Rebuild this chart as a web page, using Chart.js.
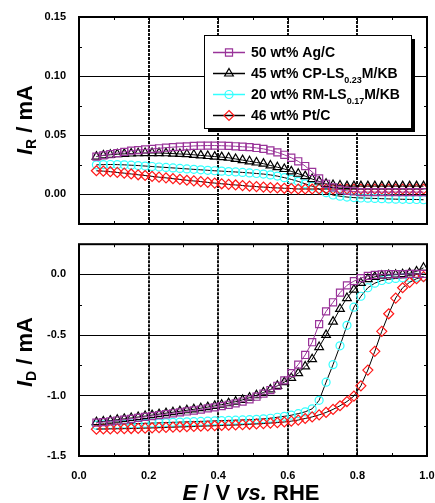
<!DOCTYPE html>
<html>
<head>
<meta charset="utf-8">
<script src="https://cdn.jsdelivr.net/npm/chart.js@4/dist/chart.umd.min.js"></script>
<style>
  body { margin: 0; background: #fff; }
  #wrap { position: relative; width: 435px; height: 503px; }
  canvas { position: absolute; left: 0; }
</style>
</head>
<body>
<div id="wrap">
  <canvas id="topChart" width="435" height="238" style="top:0px"></canvas>
  <canvas id="botChart" width="435" height="265" style="top:238px"></canvas>
</div>
<script>
// potential E / V vs. RHE
const xE = [0.05,0.07,0.09,0.11,0.13,0.15,0.17,0.19,0.21,0.23,0.25,0.27,0.29,0.31,0.33,0.35,
            0.37,0.39,0.41,0.43,0.45,0.47,0.49,0.51,0.53,0.55,0.57,0.59,0.61,0.63,0.65,0.67,
            0.69,0.71,0.73,0.75,0.77,0.79,0.81,0.83,0.85,0.87,0.89,0.91,0.93,0.95,0.97,0.99];

// ring current I_R / mA
const irAg = [0.032,0.033,0.034,0.035,0.036,0.037,0.0375,0.038,0.0385,0.039,0.0395,0.040,0.0403,0.0406,0.041,0.0412,
              0.0413,0.0413,0.0412,0.041,0.0407,0.0403,0.040,0.0393,0.0385,0.0372,0.0355,0.0335,0.031,0.028,0.024,0.019,
              0.0135,0.009,0.006,0.004,0.003,0.0025,0.002,0.002,0.002,0.002,0.002,0.002,0.002,0.002,0.002,0.002];
const irCP = [0.032,0.033,0.0335,0.034,0.0343,0.0346,0.0348,0.035,0.035,0.035,0.0348,0.0345,0.0342,0.034,0.0335,0.033,
              0.0325,0.032,0.0315,0.031,0.030,0.029,0.028,0.027,0.026,0.0245,0.023,0.0215,0.0195,0.0175,0.0155,0.013,
              0.011,0.009,0.008,0.0075,0.007,0.007,0.007,0.007,0.007,0.007,0.007,0.007,0.007,0.007,0.007,0.007];
const irRM = [0.025,0.0252,0.0253,0.0252,0.025,0.0247,0.0244,0.024,0.0236,0.0232,0.0228,0.0224,0.022,0.0216,0.0212,0.0208,
              0.0204,0.020,0.0197,0.0193,0.019,0.0186,0.0182,0.0177,0.0172,0.0165,0.0155,0.0142,0.0127,0.011,0.009,0.007,
              0.0045,0.0015,-0.0005,-0.0015,-0.0022,-0.0027,-0.003,-0.0032,-0.0034,-0.0036,-0.0038,-0.004,-0.0041,-0.0042,-0.0043,-0.0045];
const irPt = [0.020,0.0197,0.0192,0.0186,0.018,0.0173,0.0166,0.016,0.0153,0.0146,0.014,0.0133,0.0127,0.012,0.0114,0.0108,
              0.0102,0.0096,0.009,0.0085,0.008,0.0075,0.007,0.0066,0.0062,0.0058,0.0055,0.0052,0.005,0.0046,0.0046,0.0046,
              0.0046,0.0046,0.0046,0.0046,0.0046,0.0046,0.0046,0.0046,0.0046,0.0046,0.0046,0.0046,0.0046,0.0046,0.0046,0.0046];

// disk current I_D / mA
const idAg = [-1.225,-1.22,-1.213,-1.207,-1.20,-1.193,-1.185,-1.177,-1.17,-1.162,-1.155,-1.147,-1.14,-1.132,-1.124,-1.116,
              -1.107,-1.098,-1.088,-1.077,-1.065,-1.05,-1.032,-1.01,-0.985,-0.955,-0.92,-0.875,-0.815,-0.745,-0.665,-0.56,
              -0.41,-0.305,-0.23,-0.15,-0.09,-0.055,-0.03,-0.012,-0.004,0.0,0.002,0.003,0.003,0.004,0.004,0.005];
const idCP = [-1.22,-1.215,-1.208,-1.20,-1.193,-1.186,-1.178,-1.17,-1.162,-1.154,-1.146,-1.138,-1.13,-1.122,-1.114,-1.105,
              -1.096,-1.086,-1.076,-1.064,-1.051,-1.036,-1.018,-0.998,-0.975,-0.95,-0.92,-0.89,-0.855,-0.815,-0.76,-0.70,
              -0.60,-0.50,-0.39,-0.285,-0.195,-0.125,-0.07,-0.038,-0.02,-0.01,-0.005,-0.002,0.002,0.01,0.025,0.055];
const idRM = [-1.245,-1.243,-1.24,-1.238,-1.236,-1.234,-1.232,-1.23,-1.228,-1.226,-1.224,-1.222,-1.22,-1.218,-1.216,-1.214,
              -1.212,-1.21,-1.208,-1.206,-1.204,-1.202,-1.2,-1.197,-1.193,-1.188,-1.18,-1.172,-1.163,-1.15,-1.135,-1.11,
              -1.04,-0.89,-0.745,-0.59,-0.42,-0.27,-0.18,-0.11,-0.072,-0.05,-0.04,-0.033,-0.028,-0.025,-0.024,-0.022];
const idPt = [-1.278,-1.277,-1.276,-1.275,-1.274,-1.273,-1.272,-1.27,-1.268,-1.266,-1.264,-1.262,-1.26,-1.258,-1.256,-1.254,
              -1.252,-1.25,-1.248,-1.246,-1.244,-1.241,-1.238,-1.235,-1.232,-1.228,-1.224,-1.219,-1.212,-1.203,-1.19,-1.177,
              -1.16,-1.14,-1.115,-1.085,-1.05,-1.005,-0.92,-0.79,-0.635,-0.47,-0.325,-0.195,-0.11,-0.065,-0.035,-0.018];

// ticks
const xTicks = [0, 0.2, 0.4, 0.6, 0.8, 1.0];
const xMinor = [0.1, 0.3, 0.5, 0.7, 0.9];
const topYTicks = [0, 0.05, 0.10, 0.15];
const topYMinor = [0.025, 0.075, 0.125];
const botYTicks = [-1.5, -1.0, -0.5, 0.0];
const botYMinor = [-1.25, -0.75, -0.25];

const FONT = "'Liberation Sans', Arial, sans-serif";
Chart.defaults.font.family = FONT;
Chart.defaults.color = '#000';

const PURPLE = '#993399';
const CYAN = '#33ffff';
const RED = '#ff1a1a';

// legend entries (line colour, marker colour, marker)
const series = [
  { name: ['50 wt% Ag/C'], line: PURPLE, mark: PURPLE, style: 'rect', r: 5 },
  { name: ['45 wt% CP-LS', '0.23', 'M/KB'], line: '#000', mark: '#000', style: 'triangle', r: 5 },
  { name: ['20 wt% RM-LS', '0.17', 'M/KB'], line: CYAN, mark: CYAN, style: 'circle', r: 4 },
  { name: ['46 wt% Pt/C'], line: '#000', mark: RED, style: 'rectRot', r: 5 }
];

function makeSets(lists) {
  const plotLine = [PURPLE, '#000', '#000', '#000'];
  const order = [0, 1, 3, 2];
  return lists.map((vals, i) => ({
    data: vals.map((v, k) => ({ x: xE[k], y: v })),
    borderColor: plotLine[i],
    borderWidth: 1,
    pointStyle: series[i].style,
    pointRadius: series[i].r,
    pointBorderColor: series[i].mark,
    pointBackgroundColor: 'rgba(0,0,0,0)',
    pointBorderWidth: 1.2,
    tension: 0,
    order: order[i]
  }));
}

function marker(ctx, style, cx, cy, r, color) {
  ctx.beginPath();
  if (style === 'rect') {
    const s = r * Math.SQRT1_2;
    ctx.rect(cx - s, cy - s, 2 * s, 2 * s);
  } else if (style === 'triangle') {
    for (let k = 0; k < 3; k++) {
      const a = k * 2 * Math.PI / 3;
      const px = cx + Math.sin(a) * r, py = cy - Math.cos(a) * r;
      if (k === 0) ctx.moveTo(px, py); else ctx.lineTo(px, py);
    }
    ctx.closePath();
  } else if (style === 'circle') {
    ctx.arc(cx, cy, r, 0, Math.PI * 2);
  } else {
    ctx.moveTo(cx, cy - r); ctx.lineTo(cx + r, cy); ctx.lineTo(cx, cy + r); ctx.lineTo(cx - r, cy);
    ctx.closePath();
  }
  ctx.strokeStyle = color;
  ctx.lineWidth = 1.2;
  ctx.stroke();
}

function richText(ctx, parts, x, y, center) {
  let w = 0;
  parts.forEach(p => { ctx.font = p.f; w += ctx.measureText(p.t).width; });
  let cx = center ? x - w / 2 : x;
  parts.forEach(p => {
    ctx.font = p.f;
    ctx.fillText(p.t, cx, y + (p.dy || 0));
    cx += ctx.measureText(p.t).width;
  });
}

function panelPlugin(yMajor, yMinor, yTitleSub, titleY) {
  return {
    id: 'panel',
    beforeDatasetsDraw(chart) {
      const { ctx, chartArea: a, scales: { x, y } } = chart;
      ctx.save();
      ctx.strokeStyle = '#000';
      ctx.lineWidth = 1;
      yMajor.forEach(v => {
        const py = Math.round(y.getPixelForValue(v)) + 0.5;
        ctx.beginPath(); ctx.moveTo(a.left, py); ctx.lineTo(a.right, py); ctx.stroke();
      });
      ctx.lineWidth = 2;
      ctx.strokeStyle = '#111';
      ctx.setLineDash([3, 1]);
      xTicks.slice(1, -1).forEach(v => {
        const px = Math.round(x.getPixelForValue(v));
        ctx.beginPath(); ctx.moveTo(px, a.top); ctx.lineTo(px, a.bottom); ctx.stroke();
      });
      ctx.restore();
    },
    afterDatasetsDraw(chart) {
      const { ctx, chartArea: a, scales: { x, y } } = chart;
      ctx.save();
      ctx.strokeStyle = '#000';
      ctx.lineWidth = 1;
      const tick = (vals, len) => {
        vals.forEach(v => {
          const px = Math.round(x.getPixelForValue(v)) + 0.5;
          ctx.beginPath();
          ctx.moveTo(px, a.bottom); ctx.lineTo(px, a.bottom - len);
          ctx.moveTo(px, a.top); ctx.lineTo(px, a.top + len);
          ctx.stroke();
        });
      };
      const ytick = (vals, len) => {
        vals.forEach(v => {
          const py = Math.round(y.getPixelForValue(v)) + 0.5;
          ctx.beginPath();
          ctx.moveTo(a.left, py); ctx.lineTo(a.left + len, py);
          ctx.moveTo(a.right, py); ctx.lineTo(a.right - len, py);
          ctx.stroke();
        });
      };
      tick(xTicks, 5); tick(xMinor, 3);
      ytick(yMajor, 5); ytick(yMinor, 3);
      ctx.lineWidth = 2;
      ctx.strokeRect(a.left, a.top, a.right - a.left, a.bottom - a.top);
      ctx.restore();
    },
    afterDraw(chart) {
      const ctx = chart.ctx;
      ctx.save();
      ctx.fillStyle = '#000';
      ctx.textBaseline = 'alphabetic';
      ctx.translate(32, titleY);
      ctx.rotate(-Math.PI / 2);
      richText(ctx, [
        { t: 'I', f: 'italic bold 22px ' + FONT },
        { t: yTitleSub, f: 'bold 14px ' + FONT, dy: 4 },
        { t: ' / mA', f: 'bold 22px ' + FONT }
      ], 0, 0, true);
      ctx.restore();
    }
  };
}

const legendPlugin = {
  id: 'boxLegend',
  afterDraw(chart) {
    const ctx = chart.ctx;
    const bx = 204, by = 35, bw = 207, bh = 93;
    ctx.save();
    ctx.fillStyle = '#000';
    ctx.fillRect(bx + 4, by + 4, bw, bh);
    ctx.fillStyle = '#fff';
    ctx.fillRect(bx, by, bw, bh);
    ctx.strokeStyle = '#000';
    ctx.lineWidth = 1;
    ctx.strokeRect(bx + 0.5, by + 0.5, bw, bh);
    const rows = [52, 73, 94, 115];
    series.forEach((s, i) => {
      const cy = rows[i];
      ctx.strokeStyle = s.line;
      ctx.lineWidth = 1.5;
      ctx.beginPath(); ctx.moveTo(213, cy + 0.5); ctx.lineTo(245, cy + 0.5); ctx.stroke();
      ctx.fillStyle = '#fff';
      marker(ctx, s.style, 229, cy + 0.5, s.r, s.mark);
      ctx.fillStyle = '#000';
      ctx.textBaseline = 'middle';
      const parts = [{ t: s.name[0], f: 'bold 14px ' + FONT }];
      if (s.name.length > 1) {
        parts.push({ t: s.name[1], f: 'bold 9px ' + FONT, dy: 7 });
        parts.push({ t: s.name[2], f: 'bold 14px ' + FONT });
      }
      richText(ctx, parts, 251, cy + 1, false);
    });
    ctx.restore();
  }
};

const xTitlePlugin = {
  id: 'xTitle',
  afterDraw(chart) {
    const ctx = chart.ctx;
    ctx.save();
    ctx.fillStyle = '#000';
    ctx.textBaseline = 'alphabetic';
    richText(ctx, [
      { t: 'E', f: 'italic bold 22px ' + FONT },
      { t: ' / V ', f: 'bold 22px ' + FONT },
      { t: 'vs.', f: 'italic bold 22px ' + FONT },
      { t: ' RHE', f: 'bold 22px ' + FONT }
    ], 251, 262, true);
    ctx.restore();
  }
};

// scale sizes are fixed in afterFit so the plot area lands where the figure has it
function fixSize(s, w, h) {
  if (w !== null) s.width = w;
  if (h !== null) s.height = h;
  s.paddingTop = 0; s.paddingBottom = 0; s.paddingLeft = 0; s.paddingRight = 0;
}

function xScale(showLabels, height) {
  return {
    type: 'linear', position: 'bottom', min: 0, max: 1.0,
    afterBuildTicks: s => { s.ticks = xTicks.map(v => ({ value: v })); },
    afterFit: s => fixSize(s, null, height),
    grid: { display: false },
    border: { display: false },
    ticks: {
      display: showLabels, padding: 5,
      font: { size: 11, weight: 'bold' },
      maxRotation: 0,
      callback: v => v.toFixed(1)
    }
  };
}

function yScale(min, max, ticks, digits) {
  return {
    type: 'linear', position: 'left', min: min, max: max,
    afterBuildTicks: s => { s.ticks = ticks.map(v => ({ value: v })); },
    afterFit: s => fixSize(s, 79, null),
    grid: { display: false },
    border: { display: false },
    ticks: {
      padding: 5,
      font: { size: 11, weight: 'bold' },
      callback: v => v.toFixed(digits)
    }
  };
}

// empty spacer axes on top and right
function spacer(pos, size) {
  const horiz = pos === 'top';
  return {
    type: 'linear', position: pos, display: true,
    afterFit: s => fixSize(s, horiz ? null : size, horiz ? size : null),
    grid: { display: false },
    border: { display: false },
    ticks: { display: false }
  };
}

const baseOptions = (scales) => ({
  responsive: false,
  animation: false,
  devicePixelRatio: 1,
  layout: { padding: 0 },
  plugins: { legend: { display: false }, tooltip: { enabled: false } },
  scales: scales
});

new Chart(document.getElementById('topChart'), {
  type: 'line',
  data: { datasets: makeSets([irAg, irCP, irRM, irPt]) },
  options: baseOptions({
    x: xScale(false, 14), y: yScale(-0.025, 0.15, topYTicks, 2),
    xTop: spacer('top', 17), yRight: spacer('right', 8)
  }),
  plugins: [panelPlugin(topYTicks, topYMinor, 'R', 120), legendPlugin]
});

new Chart(document.getElementById('botChart'), {
  type: 'line',
  data: { datasets: makeSets([idAg, idCP, idRM, idPt]) },
  options: baseOptions({
    x: xScale(true, 47), y: yScale(-1.5, 0.25, botYTicks, 1),
    xTop: spacer('top', 6), yRight: spacer('right', 8)
  }),
  plugins: [panelPlugin(botYTicks, botYMinor, 'D', 352 - 238), xTitlePlugin]
});
</script>
</body>
</html>
